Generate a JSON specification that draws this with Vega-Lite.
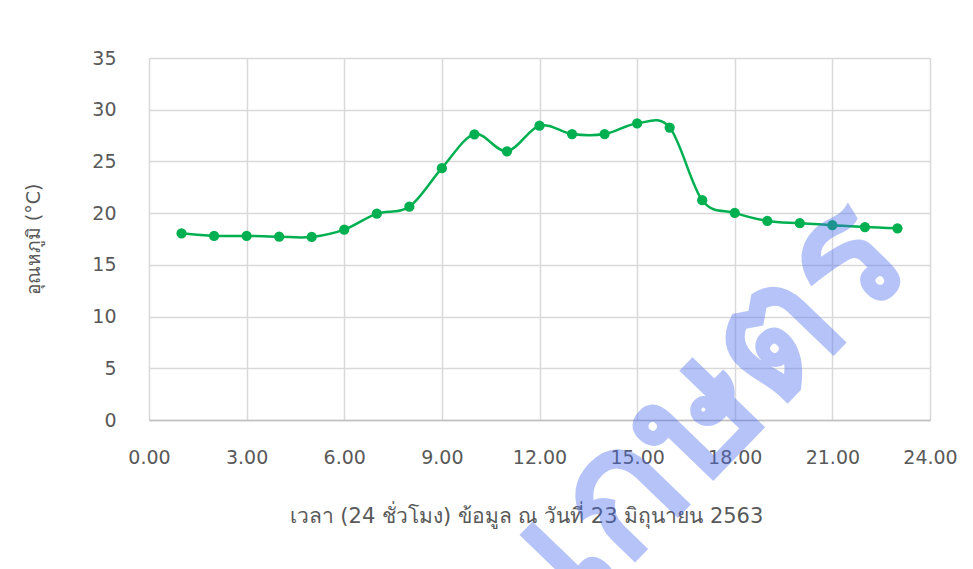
{
  "$schema": "https://vega.github.io/schema/vega-lite/v6.json",
  "width": 781,
  "height": 362,
  "autosize": "none",
  "padding": {"left": 149, "top": 58, "right": 43, "bottom": 149},
  "background": "white",
  "config": {
    "view": {"stroke": null},
    "font": "DejaVu Sans",
    "axis": {
      "labelColor": "#595959",
      "titleColor": "#595959",
      "labelFont": "DejaVu Sans",
      "titleFont": "DejaVu Sans",
      "labelFontSize": 19,
      "titleFontSize": 19,
      "titleFontWeight": "normal",
      "gridColor": "#d9d9d9",
      "gridWidth": 1.5,
      "ticks": false,
      "labelFlush": false,
      "labelOverlap": false
    }
  },
  "data": {
    "values": [
      {"hour": 1, "temp": 18.05},
      {"hour": 2, "temp": 17.8},
      {"hour": 3, "temp": 17.8},
      {"hour": 4, "temp": 17.72},
      {"hour": 5, "temp": 17.7},
      {"hour": 6, "temp": 18.4},
      {"hour": 7, "temp": 19.95},
      {"hour": 8, "temp": 20.62},
      {"hour": 9, "temp": 24.35},
      {"hour": 10, "temp": 27.62},
      {"hour": 11, "temp": 25.98},
      {"hour": 12, "temp": 28.45},
      {"hour": 13, "temp": 27.65},
      {"hour": 14, "temp": 27.65},
      {"hour": 15, "temp": 28.67},
      {"hour": 16, "temp": 28.28},
      {"hour": 17, "temp": 21.25},
      {"hour": 18, "temp": 20.03},
      {"hour": 19, "temp": 19.25},
      {"hour": 20, "temp": 19.03},
      {"hour": 21, "temp": 18.84},
      {"hour": 22, "temp": 18.65},
      {"hour": 23, "temp": 18.53}
    ]
  },
  "layer": [
    {
      "mark": {"type": "line", "interpolate": "cardinal", "color": "#00b050", "strokeWidth": 2.5},
      "encoding": {
        "x": {
          "field": "hour", "type": "quantitative",
          "scale": {"domain": [0, 24], "nice": false, "zero": false},
          "axis": {
            "values": [0, 3, 6, 9, 12, 15, 18, 21, 24],
            "format": ".2f",
            "labelPadding": 28,
            "domainColor": "#bfbfbf",
            "domainWidth": 1.5,
            "title": "เวลา (24 ชั่วโมง) ข้อมูล ณ วันที่ 23 มิถุนายน 2563",
            "titleFontSize": 21,
            "titleX": 377,
            "titleAlign": "center",
            "titlePadding": 38
          }
        },
        "y": {
          "field": "temp", "type": "quantitative",
          "scale": {"domain": [0, 35], "nice": false},
          "axis": {
            "values": [0, 5, 10, 15, 20, 25, 30, 35],
            "labelPadding": 33,
            "domain": false,
            "title": "อุณหภูมิ (°C)",
            "titlePadding": 48
          }
        }
      }
    },
    {
      "mark": {"type": "point", "filled": true, "color": "#00b050", "size": 105, "opacity": 1},
      "encoding": {
        "x": {"field": "hour", "type": "quantitative"},
        "y": {"field": "temp", "type": "quantitative"}
      }
    },
    {
      "data": {"values": [{"wx": 17.3, "wy": 1.6, "label": "เกษตร"}]},
      "mark": {"type": "text", "angle": -46, "fontSize": 172, "fontWeight": "bold", "color": "#4a6cf0", "opacity": 0.4, "align": "center", "baseline": "middle"},
      "encoding": {
        "x": {"field": "wx", "type": "quantitative"},
        "y": {"field": "wy", "type": "quantitative"},
        "text": {"field": "label"}
      }
    }
  ]
}
